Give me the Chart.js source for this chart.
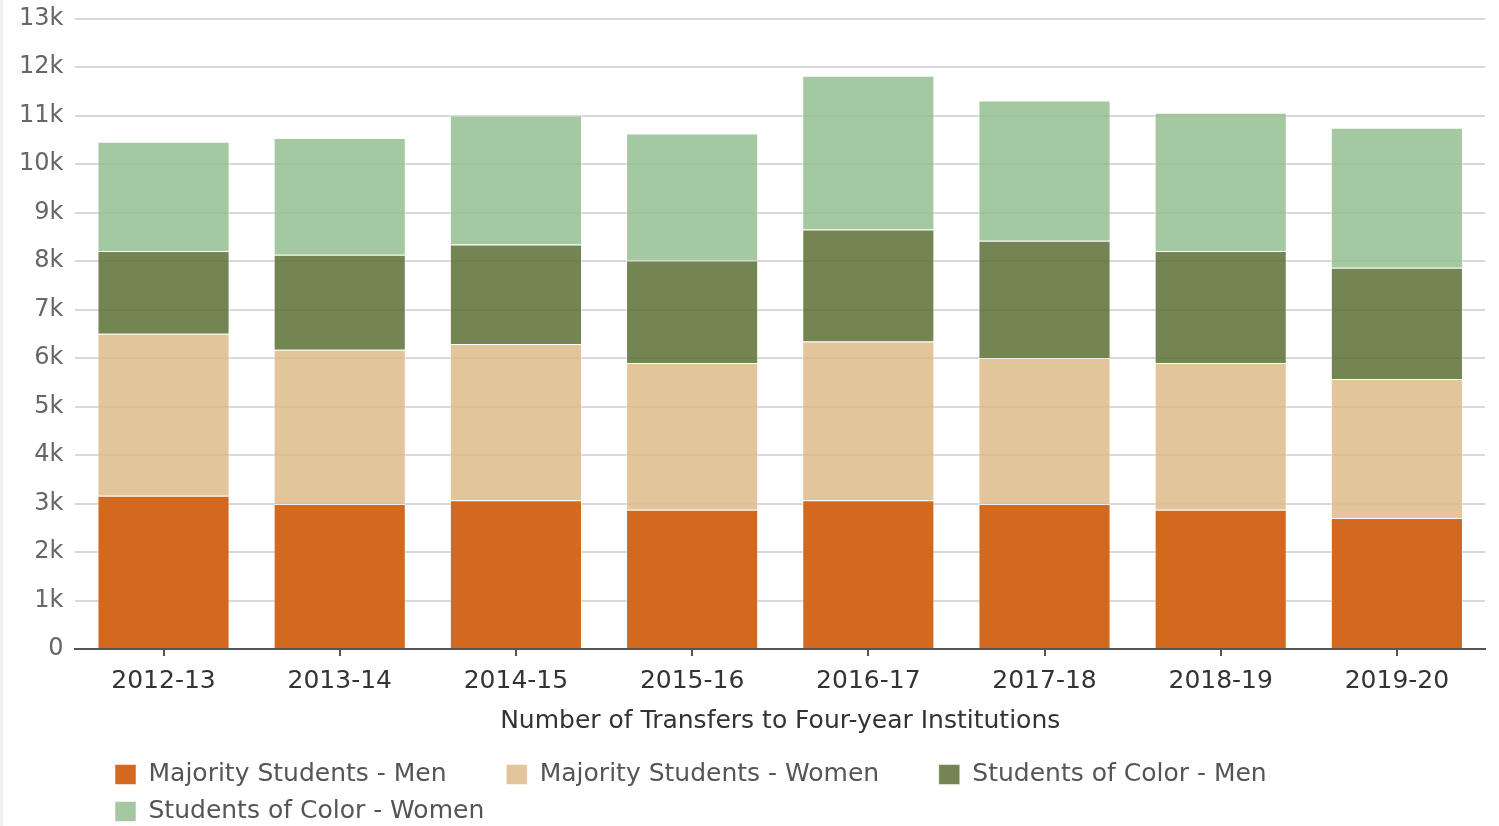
<!DOCTYPE html>
<html>
<head>
<meta charset="utf-8">
<script src="https://cdn.jsdelivr.net/npm/chart.js@4"></script>
<style>
  html, body { margin: 0; padding: 0; background: #fff; }
  #wrap { position: relative; width: 1499px; height: 826px; box-sizing: border-box; border-left: 3px solid #f0f0f0; }
</style>
</head>
<body>
<div id="wrap"><canvas id="chart"></canvas></div>
<script>
  // values, in thousands
  const years = ["2012-13", "2013-14", "2014-15", "2015-16", "2016-17", "2017-18", "2018-19", "2019-20"];
  const majorityMen = [3.16, 2.99, 3.07, 2.87, 3.07, 2.99, 2.87, 2.70];
  const majorityWomen = [3.34, 3.18, 3.22, 3.03, 3.27, 3.01, 3.03, 2.87];
  const colorMen = [1.71, 1.96, 2.05, 2.11, 2.31, 2.42, 2.31, 2.29];
  const colorWomen = [2.25, 2.41, 2.66, 2.62, 3.17, 2.89, 2.85, 2.89];

  const FONT = "'DejaVu Sans', sans-serif";

  // the legend sits a bit in from the left edge and a little lower, like the original
  const legendShift = {
    id: "legendShift",
    afterLayout(chart) {
      chart.legend.left += 96;
      chart.legend.top += 8;
    }
  };

  function ds(label, data, color) {
    return {
      label,
      data: data.map(v => v * 1000),
      backgroundColor: color,
      borderColor: "rgba(255,255,255,0.5)",
      borderWidth: 1,
      barPercentage: 0.75,
      categoryPercentage: 1
    };
  }

  new Chart(document.getElementById("chart"), {
    type: "bar",
    data: {
      labels: years,
      datasets: [
        ds("Majority Students - Men", majorityMen, "#d2691f"),
        ds("Majority Students - Women", majorityWomen, "rgba(222,187,137,0.85)"),
        ds("Students of Color - Men", colorMen, "rgba(90,112,52,0.85)"),
        ds("Students of Color - Women", colorWomen, "rgba(148,190,143,0.85)")
      ]
    },
    plugins: [legendShift],
    options: {
      responsive: true,
      maintainAspectRatio: false,
      animation: false,
      layout: { padding: { left: 4, right: 14, top: 0, bottom: 0 } },
      plugins: {
        tooltip: { enabled: false },
        legend: {
          position: "bottom",
          align: "start",
          labels: {
            boxWidth: 21,
            boxHeight: 20,
            padding: 12,
            color: "#555",
            font: { family: FONT, size: 25 },
            generateLabels(chart) {
              return Chart.defaults.plugins.legend.labels.generateLabels(chart)
                .map(l => ({ ...l, text: l.text + "      " }));
            }
          }
        }
      },
      scales: {
        x: {
          stacked: true,
          grid: { drawOnChartArea: false, drawTicks: true, tickLength: 7, offset: false, color: "#555", lineWidth: 2 },
          border: { display: true, color: "#555", width: 2 },
          ticks: { color: "#333", padding: 10, font: { family: FONT, size: 25 } },
          title: {
            display: true,
            text: "Number of Transfers to Four-year Institutions",
            color: "#333",
            padding: { top: 0, bottom: 6 },
            font: { family: FONT, size: 25 }
          }
        },
        y: {
          stacked: true,
          min: 0,
          max: 13000,
          grid: { color: "#d8d8d8", lineWidth: 2, drawTicks: false },
          border: { display: false },
          ticks: {
            stepSize: 1000,
            padding: 12,
            color: "#666",
            font: { family: FONT, size: 24, lineHeight: 0.55 },
            callback: v => v === 0 ? "0" : (v / 1000) + "k"
          }
        }
      }
    }
  });
</script>
</body>
</html>
